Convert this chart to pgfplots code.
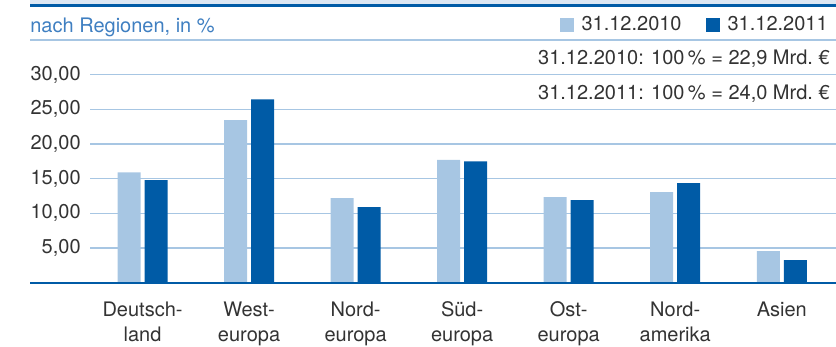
\documentclass[border=0pt]{standalone}
\usepackage{fontspec}
\setmainfont{TeX Gyre Heros}
\usepackage{pgfplots}
\pgfplotsset{compat=1.18}
\definecolor{lightbar}{HTML}{A7C6E3}
\definecolor{darkbar}{HTML}{005BA6}
\definecolor{gridc}{HTML}{A7C6E3}
\definecolor{bandc}{HTML}{DCE7F3}
\definecolor{titlec}{HTML}{3F7FC1}
\definecolor{textc}{HTML}{333333}
\newcommand{\fnt}{\fontsize{12}{15}\selectfont}
\begin{document}
\begin{tikzpicture}[x=0.6pt,y=0.6pt, font=\fnt, text=textc]
\useasboundingbox (0,0) rectangle (836,347);
\fill[bandc] (30,342) rectangle (836,347);
\draw[darkbar, line width=1.5pt] (30,341.7) -- (836,341.7);
\node[anchor=base west, inner sep=0pt, text=titlec] at (30,314.7) {nach Regionen, in \%};
\draw[gridc, line width=0.9pt] (30,307) -- (836,307);
\node[anchor=base east, inner sep=0pt] at (830,282) {31.12.2010: 100\,\% = 22,9 Mrd.~€};
\node[anchor=base east, inner sep=0pt] at (830,247.7) {31.12.2011: 100\,\% = 24,0 Mrd.~€};
\begin{axis}[
  at={(54pt,38.58pt)}, anchor=south west,
  scale only axis, width=447.6pt, height=124.8pt,
  xmin=-0.493, xmax=6.509, ymin=0, ymax=30,
  axis line style={draw=none}, tick style={draw=none},
  ybar=2.4pt, bar width=13.8pt,
  ymajorgrids, grid style={gridc, line width=0.9pt},
  ytick={5,10,...,30},
  /pgf/number format/fixed, /pgf/number format/fixed zerofill,
  /pgf/number format/precision=2, /pgf/number format/use comma,
  /pgf/number format/assume math mode=true,
  yticklabel style={anchor=east, inner sep=0pt, xshift=-5.4pt, font=\fnt, text=textc},
  xtick={0,...,6},
  xticklabels={{Deutsch-\\land},{West-\\europa},{Nord-\\europa},{Süd-\\europa},{Ost-\\europa},{Nord-\\amerika},{Asien}},
  xticklabel style={align=center, anchor=north, inner sep=0pt, yshift=-7.1pt, font=\fnt, text=textc},
  legend columns=2,
  legend style={draw=none, fill=none, inner sep=0pt, font=\fnt, text=textc,
    at={(axis description cs:0.9893,1.239)}, anchor=east,
    nodes={inner sep=0pt},
    /tikz/every odd column/.append style={column sep=4.8pt},
    /tikz/every even column/.append style={column sep=14.4pt}},
  clip=false,
]
\addplot[fill=lightbar, draw=none, legend image code/.code={\fill[lightbar] (0pt,-4.2pt) rectangle (8.4pt,4.2pt);}]
  coordinates {(0,15.9) (1,23.45) (2,12.2) (3,17.7) (4,12.35) (5,13.05) (6,4.55)};
\addplot[fill=darkbar, draw=none, legend image code/.code={\fill[darkbar] (0pt,-4.2pt) rectangle (8.4pt,4.2pt);}]
  coordinates {(0,14.8) (1,26.45) (2,10.9) (3,17.5) (4,11.9) (5,14.35) (6,3.25)};
\legend{31.12.2010,31.12.2011}
\end{axis}
\draw[darkbar, line width=1.2pt] (30,64.3) -- (836,64.3);
\end{tikzpicture}
\end{document}
